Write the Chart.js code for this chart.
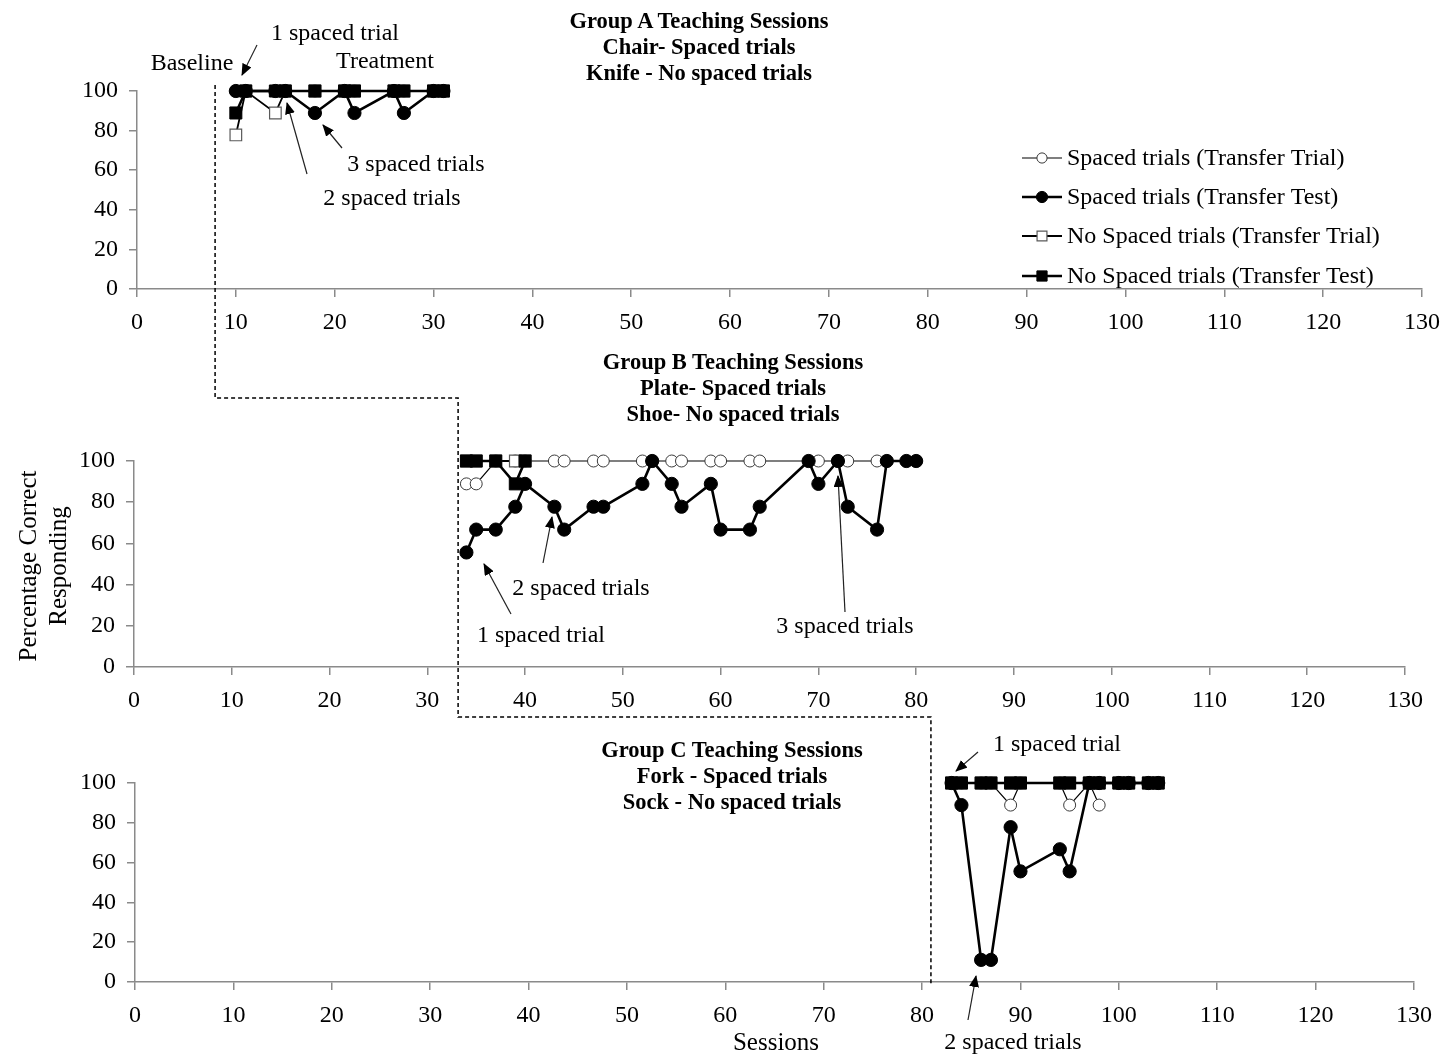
<!DOCTYPE html>
<html>
<head>
<meta charset="utf-8">
<title>Teaching Sessions</title>
<script src="https://cdn.jsdelivr.net/npm/chart.js@4.4.1/dist/chart.umd.min.js"></script>
<style>
  html, body { margin: 0; padding: 0; background: #fff; }
  #page { position: relative; width: 1446px; height: 1056px; overflow: hidden;
          font-family: 'Liberation Serif', 'Times New Roman', serif; color: #000; }
  .panel { position: absolute; left: 0; width: 1446px; }
  .panel canvas { display: block; }
  .lbl { position: absolute; white-space: nowrap; font-size: 24px; line-height: 1;
         transform: translate(-50%, -50%); }
  .ttl { font-weight: bold; font-size: 22.5px; }
  .axt { font-size: 25px; }
  .rot { transform: translate(-50%, -50%) rotate(-90deg); }
  #overlay { position: absolute; left: 0; top: 0; pointer-events: none; }
</style>
</head>
<body>
<div id="page">
  <div class="panel" style="top:0;height:340px"><canvas id="chartA" width="1446" height="340"></canvas></div>
  <div class="panel" style="top:340px;height:380px"><canvas id="chartB" width="1446" height="380"></canvas></div>
  <div class="panel" style="top:720px;height:336px"><canvas id="chartC" width="1446" height="336"></canvas></div>

  <div class="lbl ttl" style="left:699px;top:21px">Group A Teaching Sessions</div>
  <div class="lbl ttl" style="left:699px;top:47px">Chair- Spaced trials</div>
  <div class="lbl ttl" style="left:699px;top:73px">Knife - No spaced trials</div>
  <div class="lbl" style="left:192px;top:62px">Baseline</div>
  <div class="lbl" style="left:385px;top:60px">Treatment</div>
  <div class="lbl" style="left:335px;top:32px">1 spaced trial</div>
  <div class="lbl" style="left:416px;top:163px">3 spaced trials</div>
  <div class="lbl" style="left:392px;top:197px">2 spaced trials</div>

  <div class="lbl ttl" style="left:733px;top:362px">Group B Teaching Sessions</div>
  <div class="lbl ttl" style="left:733px;top:388px">Plate- Spaced trials</div>
  <div class="lbl ttl" style="left:733px;top:414px">Shoe- No spaced trials</div>
  <div class="lbl" style="left:581px;top:587px">2 spaced trials</div>
  <div class="lbl" style="left:541px;top:634px">1 spaced trial</div>
  <div class="lbl" style="left:845px;top:625px">3 spaced trials</div>

  <div class="lbl ttl" style="left:732px;top:750px">Group C Teaching Sessions</div>
  <div class="lbl ttl" style="left:732px;top:776px">Fork - Spaced trials</div>
  <div class="lbl ttl" style="left:732px;top:802px">Sock - No spaced trials</div>
  <div class="lbl" style="left:1057px;top:743px">1 spaced trial</div>
  <div class="lbl" style="left:1013px;top:1041px">2 spaced trials</div>
  <div class="lbl axt" style="left:776px;top:1041px">Sessions</div>

  <div class="lbl axt rot" style="left:27px;top:566px">Percentage Correct</div>
  <div class="lbl axt rot" style="left:57px;top:566px">Responding</div>
</div>

<script>
// ---- axis ticks ----
const sessionTicks = [0, 10, 20, 30, 40, 50, 60, 70, 80, 90, 100, 110, 120, 130];
const percentTicks = [0, 20, 40, 60, 80, 100];

// ---- Group A (chair / knife) ----
const groupA_sessions       = [10, 11, 14, 15, 18, 21, 22, 26, 27, 30, 31];
const groupA_spacedTrial    = [100, 100, 100, 100, 100, 100, 100, 100, 100, 100, 100];
const groupA_spacedTest     = [100, 100, 100, 100, 88.9, 100, 88.9, 100, 88.9, 100, 100];
const groupA_noSpacedTrial  = [77.8, 100, 88.9, 100, 100, 100, 100, 100, 100, 100, 100];
const groupA_noSpacedTest   = [88.9, 100, 100, 100, 100, 100, 100, 100, 100, 100, 100];

// ---- Group B (plate / shoe) ----
const groupB_spacedSessions   = [34, 35, 37, 39, 40, 43, 44, 47, 48, 52, 53, 55, 56, 59, 60, 63, 64, 69, 70, 72, 73, 76, 77, 79, 80];
const groupB_spacedTrial      = [88.9, 88.9, 100, 100, 100, 100, 100, 100, 100, 100, 100, 100, 100, 100, 100, 100, 100, 100, 100, 100, 100, 100, 100, 100, 100];
const groupB_spacedTest       = [55.6, 66.7, 66.7, 77.8, 88.9, 77.8, 66.7, 77.8, 77.8, 88.9, 100, 88.9, 77.8, 88.9, 66.7, 66.7, 77.8, 100, 88.9, 100, 77.8, 66.7, 100, 100, 100];
const groupB_noSpacedSessions = [34, 35, 37, 39, 40];
const groupB_noSpacedTrial    = [100, 100, 100, 100, 100];
const groupB_noSpacedTest     = [100, 100, 100, 88.9, 100];

// ---- Group C (fork / sock) ----
const groupC_trialSessions    = [83, 84, 86, 87, 89, 90, 94, 95, 97, 98];
const groupC_spacedTrial      = [100, 100, 100, 100, 88.9, 100, 100, 88.9, 100, 88.9];
const groupC_sessions         = [83, 84, 86, 87, 89, 90, 94, 95, 97, 98, 100, 101, 103, 104];
const groupC_spacedTest       = [100, 88.9, 11.1, 11.1, 77.8, 55.6, 66.7, 55.6, 100, 100, 100, 100, 100, 100];
const groupC_noSpacedTrial    = [100, 100, 100, 100, 100, 100, 100, 100, 100, 100, 100, 100, 100, 100];
const groupC_noSpacedTest     = [100, 100, 100, 100, 100, 100, 100, 100, 100, 100, 100, 100, 100, 100];

// phase-change positions (session units) on each panel
const phaseChange = { A: 7.9, B: 33.15, C: 80.9 };

const seriesNames = [
  'Spaced trials (Transfer Trial)',
  'Spaced trials (Transfer Test)',
  'No Spaced trials (Transfer Trial)',
  'No Spaced trials (Transfer Test)'
];

const AXIS_GREY = '#8a8a8a';
const FONT_FAMILY = "'Liberation Serif', 'Times New Roman', serif";
const TICK_FONT = { family: FONT_FAMILY, size: 24 };

const seriesStyle = [
  { pointStyle: 'circle', pointRadius: 6,   pointBackgroundColor: '#fff', pointBorderColor: '#3a3a3a', pointBorderWidth: 1,   borderWidth: 1.2, order: 3 },
  { pointStyle: 'circle', pointRadius: 6.6, pointBackgroundColor: '#000', pointBorderColor: '#000',    pointBorderWidth: 1,   borderWidth: 2.6, order: 1 },
  { pointStyle: 'rect',   pointRadius: 8.2, pointBackgroundColor: '#fff', pointBorderColor: '#5a5a5a', pointBorderWidth: 1.2, borderWidth: 1.8, order: 2 },
  { pointStyle: 'rect',   pointRadius: 8.5, pointBackgroundColor: '#000', pointBorderColor: '#000',    pointBorderWidth: 1,   borderWidth: 2.6, order: 0 }
];

function pairs(xs, ys) { return xs.map((x, i) => ({ x: x, y: ys[i] })); }

function buildDatasets(list) {
  return list.map((d, i) => Object.assign({
    label: seriesNames[i],
    data: d,
    borderColor: '#000',
    showLine: true,
    fill: false,
    tension: 0,
    clip: false
  }, seriesStyle[i]));
}

// key drawn inside the first panel
const seriesKey = {
  id: 'seriesKey',
  afterDraw(chart, args, opts) {
    if (!opts || !opts.show) return;
    const ctx = chart.ctx;
    ctx.save();
    chart.data.datasets.forEach((ds, i) => {
      const y = opts.rows[i];
      ctx.strokeStyle = '#000';
      ctx.lineWidth = ds.borderWidth;
      ctx.beginPath();
      ctx.moveTo(opts.x, y);
      ctx.lineTo(opts.x + opts.lineLen, y);
      ctx.stroke();
      ctx.fillStyle = ds.pointBackgroundColor;
      ctx.strokeStyle = ds.pointBorderColor;
      ctx.lineWidth = ds.pointBorderWidth;
      Chart.helpers.drawPoint(ctx, {
        pointStyle: ds.pointStyle,
        radius: ds.pointRadius * 0.85,
        rotation: 0,
        borderWidth: ds.pointBorderWidth
      }, opts.x + opts.lineLen / 2, y);
      ctx.fillStyle = '#000';
      ctx.font = '24px ' + FONT_FAMILY;
      ctx.textBaseline = 'middle';
      ctx.textAlign = 'left';
      ctx.fillText(ds.label, opts.textX, y + 1);
    });
    ctx.restore();
  }
};

function makePanel(canvasId, geom, datasets, key) {
  return new Chart(document.getElementById(canvasId), {
    type: 'scatter',
    data: { datasets: datasets },
    options: {
      responsive: false,
      animation: false,
      events: [],
      layout: { padding: { top: geom.top, right: geom.right, left: 0, bottom: 0 } },
      scales: {
        x: {
          type: 'linear',
          min: 0, max: 130,
          afterBuildTicks: (s) => { s.ticks = sessionTicks.map(v => ({ value: v })); },
          // fixed axis band; edge labels may run into the page margin
          afterFit: (s) => { s.height = geom.xHeight; s.paddingLeft = 0; s.paddingRight = 0; },
          ticks: { color: '#000', font: TICK_FONT, padding: 11, maxRotation: 0, autoSkip: false },
          grid: { display: true, drawOnChartArea: false, drawTicks: true, tickLength: 8, color: AXIS_GREY, lineWidth: 1.5 },
          border: { display: true, color: AXIS_GREY, width: 1.5 }
        },
        y: {
          type: 'linear',
          min: 0, max: 100,
          afterBuildTicks: (s) => { s.ticks = percentTicks.map(v => ({ value: v })); },
          afterFit: (s) => { s.width = geom.yWidth; s.paddingTop = 0; s.paddingBottom = 0; },
          ticks: { color: '#000', font: TICK_FONT, padding: 11 },
          grid: { display: true, drawOnChartArea: false, drawTicks: true, tickLength: 8, color: AXIS_GREY, lineWidth: 1.5 },
          border: { display: true, color: AXIS_GREY, width: 1.5 }
        }
      },
      plugins: {
        legend: { display: false },
        tooltip: { enabled: false },
        title: { display: false },
        seriesKey: key || { show: false }
      }
    },
    plugins: [seriesKey]
  });
}

const chartA = makePanel('chartA', { top: 91, right: 24, yWidth: 137, xHeight: 51 }, buildDatasets([
  pairs(groupA_sessions, groupA_spacedTrial),
  pairs(groupA_sessions, groupA_spacedTest),
  pairs(groupA_sessions, groupA_noSpacedTrial),
  pairs(groupA_sessions, groupA_noSpacedTest)
]), { show: true, x: 1022, lineLen: 40, textX: 1067, rows: [158, 197, 236, 276] });

const chartB = makePanel('chartB', { top: 121, right: 41, yWidth: 134, xHeight: 53 }, buildDatasets([
  pairs(groupB_spacedSessions, groupB_spacedTrial),
  pairs(groupB_spacedSessions, groupB_spacedTest),
  pairs(groupB_noSpacedSessions, groupB_noSpacedTrial),
  pairs(groupB_noSpacedSessions, groupB_noSpacedTest)
]));

const chartC = makePanel('chartC', { top: 63, right: 32, yWidth: 135, xHeight: 74 }, buildDatasets([
  pairs(groupC_trialSessions, groupC_spacedTrial),
  pairs(groupC_sessions, groupC_spacedTest),
  pairs(groupC_sessions, groupC_noSpacedTrial),
  pairs(groupC_sessions, groupC_noSpacedTest)
]));

// ---- phase-change line and callout arrows ----
(function drawOverlay() {
  const offC = 720;
  const xA = chartA.scales.x.getPixelForValue(phaseChange.A);
  const xB = chartB.scales.x.getPixelForValue(phaseChange.B);
  const xC = chartC.scales.x.getPixelForValue(phaseChange.C);
  const yStart = chartA.chartArea.top - 6;
  const yStepA = 398;
  const yStepB = 717;
  const yEnd = chartC.chartArea.bottom + offC + 3;

  const arrows = [
    [257, 45, 242, 75],
    [342, 148, 323, 125],
    [307, 174, 287, 103],
    [543, 563, 552, 517],
    [511, 614, 484, 564],
    [845, 612, 838, 476],
    [978, 752, 956, 771],
    [968, 1020, 976, 976]
  ];

  const ns = 'http://www.w3.org/2000/svg';
  const svg = document.createElementNS(ns, 'svg');
  svg.setAttribute('id', 'overlay');
  svg.setAttribute('width', '1446');
  svg.setAttribute('height', '1056');
  svg.innerHTML =
    '<defs><marker id="head" markerUnits="userSpaceOnUse" markerWidth="13" markerHeight="10" refX="11" refY="5" orient="auto">' +
    '<path d="M0,0 L12,5 L0,10 z" fill="#000"/></marker></defs>' +
    '<path d="M' + xA + ',' + yStart + ' V' + yStepA + ' H' + xB + ' V' + yStepB + ' H' + xC + ' V' + yEnd +
    '" fill="none" stroke="#000" stroke-width="1.5" stroke-dasharray="4,3"/>' +
    arrows.map(a => '<line x1="' + a[0] + '" y1="' + a[1] + '" x2="' + a[2] + '" y2="' + a[3] +
      '" stroke="#222" stroke-width="1.2" marker-end="url(#head)"/>').join('');
  document.getElementById('page').appendChild(svg);
})();
</script>
</body>
</html>
